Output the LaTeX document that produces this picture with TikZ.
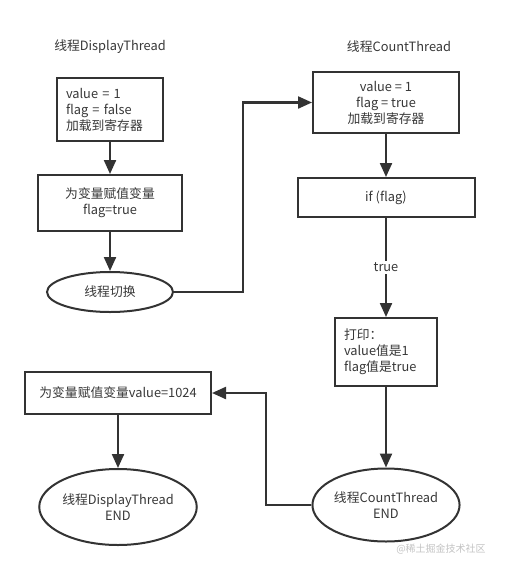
\documentclass[tikz,border=0pt]{standalone}
\usepackage{fontspec}
\setmainfont{Noto Sans CJK SC}
\usetikzlibrary{arrows.meta,shapes.geometric}
\definecolor{ink}{HTML}{333333}
\definecolor{txt}{HTML}{383838}
\definecolor{wm}{HTML}{C4C4C4}
\begin{document}
\begin{tikzpicture}[x=1pt,y=-1pt,
  every node/.style={font=\fontsize{12.8}{16}\selectfont, text=txt},
  boxnode/.style={draw=ink, line width=2pt, rectangle, inner sep=0pt, align=center},
  ellnode/.style={draw=ink, line width=2pt, ellipse, inner sep=0pt, align=center},
  arr/.style={draw=ink, line width=2.2pt, -{Triangle[length=14pt,width=12pt]}},
  lbl/.style={fill=white, inner sep=2pt}]
\useasboundingbox (0,0) rectangle (504,570);
\fill[white] (0,0) rectangle (504,570);
% titles
\node (t1) at (110,47) {线程DisplayThread};
\node (t2) at (399,47) {线程CountThread};
% left column
\node[boxnode, minimum width=106pt, minimum height=63pt, text width=88pt, align=left] (b1) at (110,109.5) {value = 1\\flag = false\\加载到寄存器};
\node[boxnode, minimum width=144pt, minimum height=56pt] (b2) at (110,203) {为变量赋值变量\\flag=true};
\node[ellnode, minimum width=126pt, minimum height=40pt] (e1) at (110,292) {线程切换};
% right column
\node[boxnode, minimum width=146pt, minimum height=61pt] (b3) at (386,102.5) {value = 1\\flag = true\\加载到寄存器};
\node[boxnode, minimum width=177pt, minimum height=39pt] (b4) at (386,197.5) {if (flag)};
\node[boxnode, minimum width=102pt, minimum height=68pt, text width=84pt, align=left] (b5) at (386,352) {打印：\\value值是1\\flag值是true};
\node[ellnode, minimum width=132pt, minimum height=73pt] (e2) at (386,505) {线程CountThread\\END};
\node[boxnode, minimum width=186pt, minimum height=42pt] (b6) at (118,393) {为变量赋值变量value=1024};
\node[ellnode, minimum width=136pt, minimum height=76pt] (e3) at (118,507) {线程DisplayThread\\END};
% connectors
\coordinate (c1) at (243,102.5);
\coordinate (c2) at (266,393);
\draw[arr] (b1.south) -- (b2.north);
\draw[arr] (b2.south) -- (e1.north);
\draw[arr] (e1.east) -| (c1) -- (b3.west);
\draw[arr] (b3.south) -- (b4.north);
\draw[arr] (b4.south) -- node[lbl, pos=0.5] {true} (b5.north);
\draw[arr] (b5.south) -- (e2.north);
\draw[arr] (e2.west) -| (c2) -- (b6.east);
\draw[arr] (b6.south) -- (e3.north);
% watermark
\node[font=\fontsize{10}{12}\selectfont, text=wm] (wm) at (441,549) {@稀土掘金技术社区};
\end{tikzpicture}
\end{document}
